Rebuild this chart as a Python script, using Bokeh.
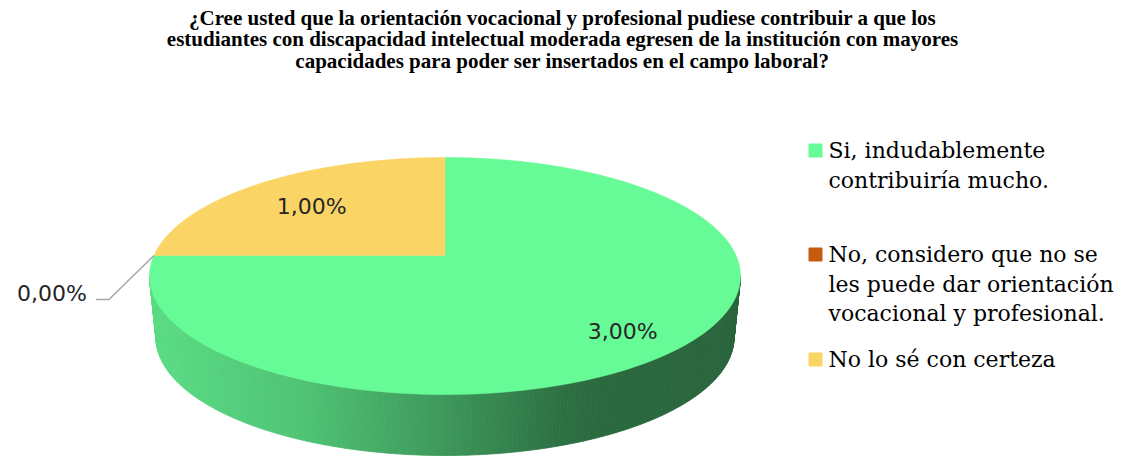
import numpy as np
from bokeh.plotting import figure
from bokeh.models import Range1d
from bokeh.embed import file_html
from bokeh.resources import INLINE
from bokeh.core.properties import value

# ---------------- data ----------------
title_lines = [
    "¿Cree usted que la orientación vocacional y profesional pudiese contribuir a que los",
    "estudiantes con discapacidad intelectual moderada egresen de la institución con mayores",
    "capacidades para poder ser insertados en el campo laboral?",
]
categories = [
    "Si, indudablemente contribuiría mucho.",
    "No, considero que  no se les puede dar orientación vocacional y profesional.",
    "No lo sé con certeza",
]
legend_lines = [
    ["Si, indudablemente", "contribuiría mucho."],
    ["No, considero que  no se", "les puede dar orientación", "vocacional y profesional."],
    ["No lo sé con certeza"],
]
values = [3, 0, 1]
labels = ["3,00%", "0,00%", "1,00%"]
colors = ["#66FB96", "#C55A11", "#FAD566"]

# ---------------- layout (screen px) ----------------
W, H = 1124, 456
AX, AY = 444.5, 255.0          # pie apex (projected centre)
EX, EY, RX, RY = 444.5, 275.5, 295.5, 118.5   # top face ellipse
EX2, EY2, RX2, RY2 = 444.5, 337.0, 289.0, 118.0  # bottom ellipse
LEG_X, LEG_Y = 815, [150, 254, 359]
LINE_H = 29.5

p = figure(width=W, height=H, x_range=Range1d(0, W), y_range=Range1d(H, 0),
           output_backend="svg", toolbar_location=None,
           x_axis_location=None, y_axis_location=None, min_border=0)
p.grid.visible = False
p.outline_line_color = None
p.background_fill_color = "white"


def rim(theta):
    dx, dy = np.sin(theta) * RX, -np.cos(theta) * RY
    ux, uy = AX - EX, AY - EY
    a = (dx / RX) ** 2 + (dy / RY) ** 2
    b = 2 * (ux * dx / RX ** 2 + uy * dy / RY ** 2)
    c = (ux / RX) ** 2 + (uy / RY) ** 2 - 1
    t = (-b + np.sqrt(b * b - 4 * a * c)) / (2 * a)
    return AX + t * dx, AY + t * dy


def shade(hexc, f):
    r, g, b = int(hexc[1:3], 16), int(hexc[3:5], 16), int(hexc[5:7], 16)
    return "#%02x%02x%02x" % (int(r * f), int(g * f), int(b * f))


total = float(sum(values))
bounds = np.concatenate([[0], np.cumsum(values)]) / total * 2 * np.pi


def slice_of(theta):
    theta = theta % (2 * np.pi)
    for i in range(len(values)):
        if values[i] > 0 and bounds[i] <= theta < bounds[i + 1]:
            return i
    return 0


# ---------------- side (front wall) ----------------
N = 240
phis = np.linspace(0, np.pi, N + 1)
sx, sy, sc = [], [], []
for k in range(N):
    p0, p1 = phis[k], phis[k + 1]
    tx = [EX + RX * np.cos(p0), EX + RX * np.cos(p1)]
    ty = [EY + RY * np.sin(p0), EY + RY * np.sin(p1)]
    bx = [EX2 + RX2 * np.cos(p1), EX2 + RX2 * np.cos(p0)]
    by = [EY2 + RY2 * np.sin(p1), EY2 + RY2 * np.sin(p0)]
    sx.append(tx + bx)
    sy.append(ty + by)
    mx = (tx[0] + tx[1]) / 2
    my = (ty[0] + ty[1]) / 2
    th = np.arctan2((mx - AX) / RX, -(my - AY) / RY)
    f = np.interp(mx, [149, 300, 440, 560, 600, 740], [0.88, 0.78, 0.61, 0.45, 0.42, 0.40])
    sc.append(shade(colors[slice_of(th)], f))
p.patches(sx, sy, fill_color=sc, line_color=sc, line_width=0.8)

# ---------------- top face ----------------
for i, v in enumerate(values):
    if v <= 0:
        continue
    th = np.linspace(bounds[i], bounds[i + 1], 200)
    rx_, ry_ = rim(th)
    xs = [AX] + list(rx_)
    ys = [AY] + list(ry_)
    p.patch(xs, ys, fill_color=colors[i], line_color=colors[i], line_width=0.5)

# ---------------- data labels ----------------
for i, v in enumerate(values):
    mid = (bounds[i] + bounds[i + 1]) / 2
    if v > 0:
        qx, qy = rim(mid)
        lx = AX + 0.75 * (qx - AX) + 3
        ly = AY + 0.75 * (qy - AY) + 6
        p.text([lx], [ly], text=[labels[i]], text_align="center", text_baseline="middle",
               text_font=value("DejaVu Sans"), text_font_size="22px", text_color="#262626")
    else:
        qx, qy = rim(mid)
        ex, ey = qx - 45, qy + 44
        p.line([qx, ex, ex - 13], [qy, ey, ey], line_color="#a6a6a6", line_width=1.5)
        p.text([ex - 22], [ey - 6], text=[labels[i]], text_align="right", text_baseline="middle",
               text_font=value("DejaVu Sans"), text_font_size="22px", text_color="#262626")

# ---------------- title ----------------
p.text([562] * 3, [17, 38.5, 60], text=title_lines, text_align="center", text_baseline="middle",
       text_font=value("Liberation Serif"), text_font_style="bold", text_font_size="21px",
       text_color="black")

# ---------------- legend ----------------
for i, lines in enumerate(legend_lines):
    p.scatter([LEG_X], [LEG_Y[i]], marker="square", size=13, fill_color=colors[i],
              line_color=colors[i])
    p.text([LEG_X + 13] * len(lines), [LEG_Y[i] + j * LINE_H for j in range(len(lines))],
           text=lines, text_align="left", text_baseline="middle",
           text_font=value("DejaVu Serif"), text_font_size="22px", text_color="black")

open("out.html", "w").write(file_html(p, INLINE))
